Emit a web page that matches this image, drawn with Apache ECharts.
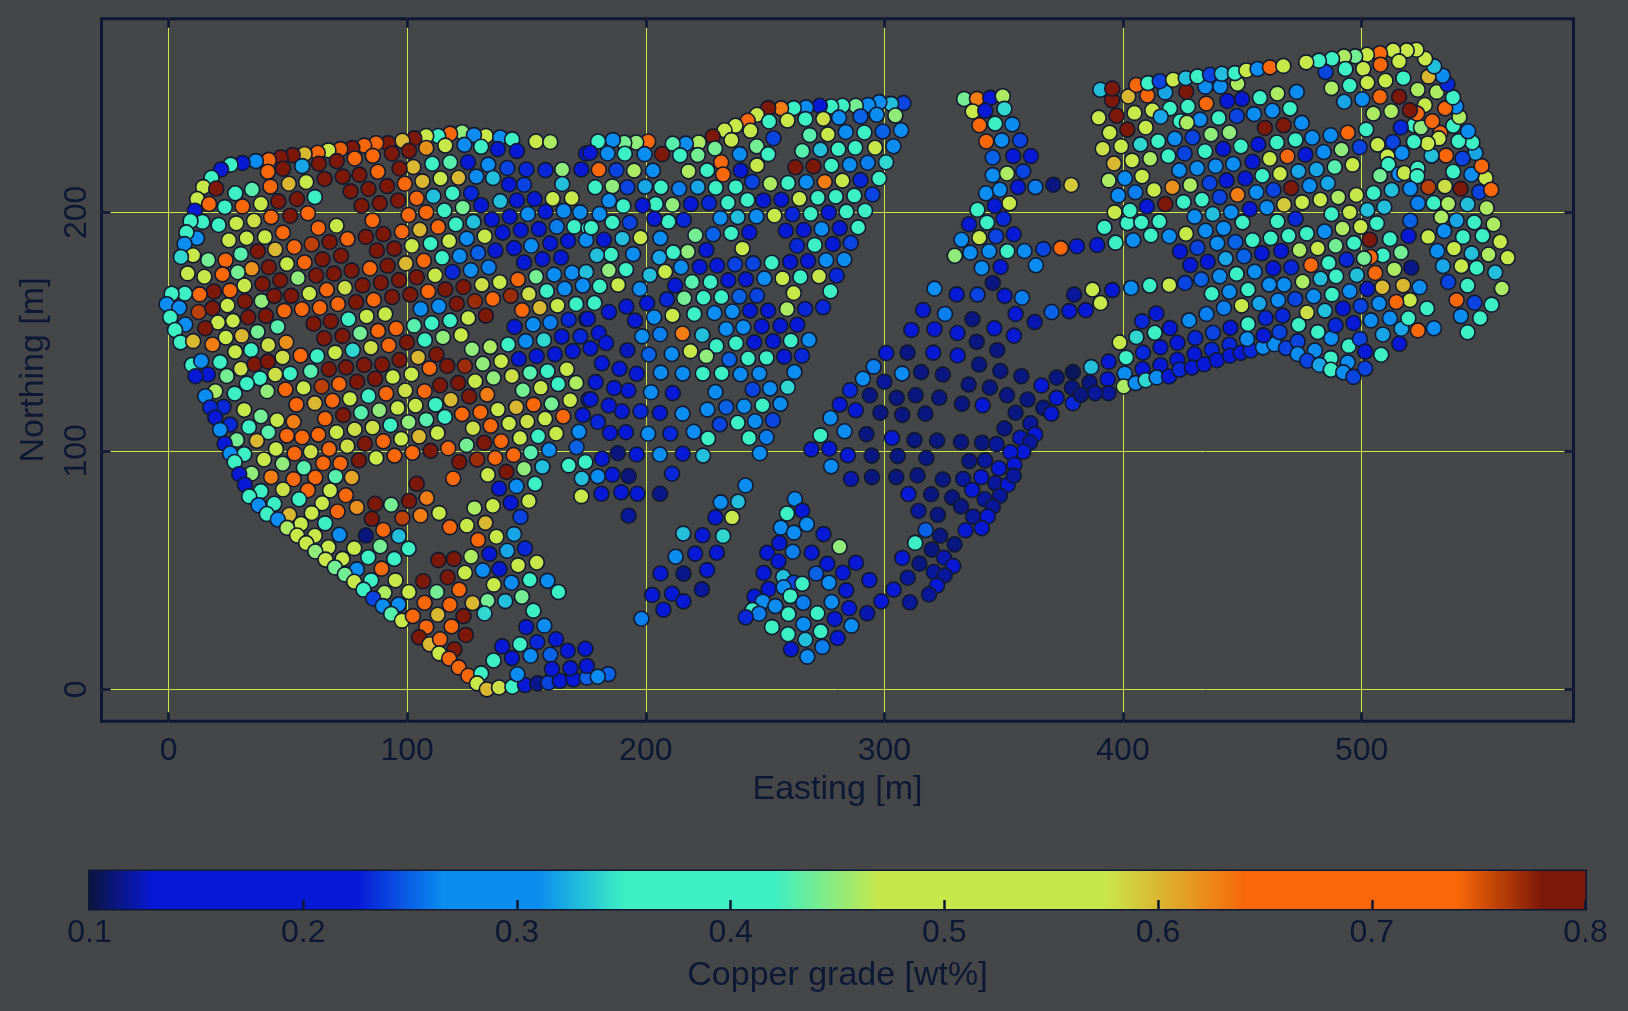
<!DOCTYPE html>
<html><head><meta charset="utf-8">
<style>html,body{margin:0;padding:0;background:#444648}#c{width:1628px;height:1011px}</style>
<script src="https://cdn.jsdelivr.net/npm/echarts@6/dist/echarts.min.js"></script>
</head><body><div id="c"></div>
<script>
// [easting, northing, copper grade]
const westFanNorth=[[133,232,.52],[123,233.6,.45],[118,233,.68],[113,232,.39],[108,232,.52],[103,231,.79],[98,230,.6],[92,229,.79],[87,229,.68],[82,228,.68],[77,227,.79],[72,226.5,.745],[67,226,.52],[62.5,225,.68],[57,224.5,.6],[52,224,.79],[47,223,.79],[42,222,.68],[36.6,221.5,.29],[31,220.7,.18],[26,220,.39],[22,218,.18],[18,214.5,.39],[14.5,210.6,.52],[20,210,.79],[12,205.6,.52],[17,203.5,.66],[11,200.7,.22],[128,232.4,.29],[139,231.4,.29],[144,230.6,.39],[154,229.7,.52],[160,229.5,.46],
[124,228.3,.29],[116,228,.52],[108,227,.62],[131,227.5,.39],[138,226.5,.18],[146,225.7,.18],[100.8,225.8,.79],[93.6,224.7,.79],[85.6,223.7,.68],[78,222.6,.68],[70.5,221.5,.79],[63,220.4,.79],[56,219.4,.32],[48,218.3,.79],[41.6,217,.68],[175,224.7,.18],
[110.5,220.4,.39],[118,221,.43],[125.5,221,.18],[134,220,.31],[142,218.6,.24],[150,218,.23],[158,217.7,.23],[165,218,.45],[173,218,.18],[102.6,219,.6],[96.8,218.4,.79],[87.7,217,.68],[80,215.8,.79],[73,215,.79],[65.4,214,.79],[57.7,212.7,.52],[50.4,212,.6],[42.7,210.8,.68],[35,209.6,.43],[28,208,.39],
[114,214.2,.52],[121.5,214.5,.6],[129,215,.29],[136,214.4,.33],[142.7,211.7,.18],[149,211.6,.24],[165,211.9,.33],[106.4,213,.6],[99,212,.72],[91.6,211,.79],[83.8,209.8,.79],[76.3,208.8,.79],[61.3,206.4,.39],[53.8,205.6,.79],[46,204.6,.79],[38.7,203.6,.52],[31,202.5,.68],[23.6,202.2,.39],[111,206.8,.33],[119,208,.39],[126.8,208,.23],[131,203,.18],[139,204.7,.33],[146,205,.18],[153.4,205.6,.18],[161,205.7,.52],[169,206,.52],
[104,205.9,.71],[96.2,205,.79],[88.5,203.8,.79],[80.9,202.8,.79],[123.3,202,.44],[115.6,200.8,.39],[108,200,.68],[100.6,198.9,.68],[85.5,196.6,.68],[58.4,199.6,.68],[51,198.6,.79],[43,198,.72],[35.8,196.5,.58],[28.4,195.4,.52],[21,194.7,.39],[14.2,196,.39],[9.2,196.4,.39],[135.5,197,.18],[143,198.2,.18],[150.6,199.3,.29],[158,200.3,.18],[165.6,200.6,.29],[172.5,200,.31],
[113,193.9,.68],[105.3,192.7,.6],[97.8,191.9,.68],[90,190.9,.79],[82.7,189.7,.79],[75,188.8,.68],[70.4,194.4,.52],[62.8,193.4,.68],[120.4,195,.39],[127.8,196,.33],[140,191.5,.18],[147.6,192.5,.18],[155.2,193,.18],[162.7,194,.26],[170,194,.35],[176,193.3,.39],[132.5,190,.52],[125,189,.29],[117.6,188,.52],[109.8,186.9,.39],[102,186,.52],[94.6,184.8,.79],[87.3,184,.79],[67.5,187.6,.79],[60,186.6,.76],[52.7,185.5,.68],[47.9,191.5,.72],[40.4,189.7,.52],[32.7,189.2,.52],[25.3,188.3,.52],[11.9,189.2,.29],[7.5,191.6,.39],[6.7,186.7,.29],[10.3,182,.52],[5.2,181.3,.34],[16.6,180,.44],[30.3,182.5,.43],[37.4,183.7,.79],[44.7,184.4,.6],
[137,184,.18],[144.8,185,.22],[152,186,.29],[160,187,.22],[167.5,188,.18],[175,188.4,.29],[129.7,183,.25],[122,181.7,.29],[114.7,181,.39],[107,179.7,.68],[99.4,178.6,.6],[91.8,177.6,.79],[84.4,176.5,.68],[76.7,175.6,.79],[72.3,181.8,.79],[64.5,180.3,.79],[57,179,.68],[49.6,178.4,.52],[42,177,.79],[34.9,176.4,.62],[23.9,179.9,.68],[22.6,174,.68],[29,174.9,.44],[15,173,.52],[8,174.4,.52],
[149,179,.18],[156.7,180.4,.22],[164.5,181,.22],[126.7,175.7,.31],[134.2,177,.26],[119,175,.23],[111.7,173.6,.52],[104,172.8,.79],[96.6,171.6,.79],[89,170.5,.79],[81.3,169.4,.79],[69.3,174.3,.79],[61.9,173.5,.79],[54.2,172.5,.45],[46.8,171.5,.79],[39.4,170,.79],[31.8,169.3,.52],[25.8,167.2,.72],[19,166.8,.79],[13,165.6,.68],[6.8,166,.39],[1.3,165.9,.39],[-.8,161.5,.29],[4.5,160,.29],[12.6,158.2,.76],[18.4,159.8,.79],[24.7,161,.52],[32,162.7,.79],[39,162.8,.45],[44.3,165,.79],[51.4,165,.79],[59,166,.52],[66.3,167.5,.68],[73.9,168.4,.58],
[116,167.7,.79],[108.8,166.8,.68],[101.3,165.5,.79],[93.7,164.5,.79],[86,163.3,.68],[78.6,162.4,.79],[71,161.6,.72],[63.4,160,.68],[55.9,159.4,.68],[48.5,158.7,.68],[40.8,156.6,.79],[33.4,156,.79],[27,154.5,.52],[20.7,153.8,.52],[15.4,151.4,.79],[7,153,.27],[.7,156,.39],[2.7,150.7,.37],[5,145.5,.39],[10.3,146,.6],[18.4,144.6,.63],[24,147.5,.52],[30.7,148.3,.6],[37.3,149.9,.44],[45.7,152,.43],[60.8,153.3,.79],[68,154.3,.79],[75.4,155.2,.39],[83,156.4,.52],[90.8,157.4,.52],
[123.6,168.7,.79],[131.3,169.7,.58],[138.8,170.7,.52],[146.4,171.8,.68],[154,173,.44],[161.6,173.9,.29],[169.1,174.7,.29],[175,175,.33],[173.6,169.3,.29],[166,168,.27],[158.5,167,.38],[151,165.8,.58],[143.4,165,.77],[135.9,163.7,.68],[128.4,162.7,.77],[120.8,161.7,.79],[113.3,160.6,.29],[105.7,159.5,.31],[163,160.9,.52],[170.8,161.6,.39],[155.6,160,.6],[148.2,159,.68],[133,156.7,.79],[125.6,155.7,.52],[118,154.6,.39],[110.3,153.5,.39],[102.9,152.5,.43],[95.4,151.3,.68],[87.8,150.3,.68],[80.3,149.3,.44],[72.9,148.2,.79],[65.2,147.2,.79]];

const westFanMiddle=[[145,152,.18],[152.8,153,.29],[160,153.8,.26],[167.7,155,.23],[175,155.3,.18],[172.6,148,.23],[164.8,147.9,.18],[157.3,146.5,.34],[149.7,146,.3],[142.3,144.6,.39],[122.6,148.6,.52],[115,147.6,.45],[107.4,146.5,.39],[99.9,145.5,.79],[92.3,144.3,.68],[84.8,143.3,.58],[77.2,142.2,.34],[69.8,141.2,.52],[62.3,139.8,.39],[55.3,140,.68],[47.8,139.2,.58],[41.8,144.4,.58],[49.3,145.5,.62],[34.6,142.3,.39],[27.9,141.5,.52],[127.2,142.6,.45],[134.8,143.6,.46],[169.4,141.8,.18],[161.9,140.5,.18],[154.3,139.7,.18],[146.8,138.5,.18],[139.4,137.6,.52],[131.7,136.5,.45],[124.2,135.6,.77],[116.8,135.6,.79],[112.3,140.4,.79],[104.6,139.2,.6],[96.8,138.1,.79],[109.4,134.6,.72],
[9.8,136,.39],[13.7,137.7,.29],[21.6,137.2,.39],[30.3,134.4,.58],[36,136.3,.79],[41.6,137.4,.79],[67.2,134.2,.79],[74.4,135,.79],[82,136,.79],[89.5,136.2,.79],[101.8,132.1,.52],[94,131,.52],[86.6,130.2,.79],[79,129,.79],[71.5,128,.68],[64.2,127,.76],[56.6,126.4,.52],[59.6,133.4,.43],[51,132.4,.39],[44.7,132,.58],[38.3,130.4,.39],[32.8,128.2,.39],[24.4,131.4,.44],[16.5,132,.18],[11.3,131.3,.18],[19.6,125,.46],[15.4,122.9,.27],[27.7,124,.39],[41.3,125,.45],[49,125.7,.68],
[128.5,129.2,.52],[136.2,130.6,.45],[143.9,131.4,.58],[151.5,132.7,.43],[158.8,133.4,.39],[166.9,134.2,.52],[121.4,128.5,.79],[113.8,127.5,.79],[107.3,125,.68],[99.2,125.3,.58],[91.2,124,.68],[83.8,123,.36],[76,121.8,.52],[68.7,121,.73],[61.3,120,.6],[53.6,119.4,.64],[133.5,123.6,.63],[126,122.8,.79],[118.3,121.4,.6],[111.9,119.4,.39],[103.5,119,.52],[96,118,.52],[88.3,117,.45],[80.7,116,.43],[73.2,115,.79],[65.6,113.5,.68],[52.4,112.2,.63],[45.5,112.8,.52],[38.7,114.5,.44],[31.7,117.2,.52],[23,118.4,.23],[17.5,118.2,.23],[19.6,114,.18],[25.8,111,.23],[21.6,108.8,.29],[33.7,110,.39],[41.8,107.8,.43],[49.6,106.4,.72],[56,105.7,.74],[62.8,106.8,.68],[70.4,107.8,.52],[78,109,.58],[85.5,109.8,.58],[93,110.8,.39],[100.6,112,.45],[108,113,.43],[115.8,114.2,.39],[123,115.4,.68],[130.7,116.2,.72],[138,117.3,.52],[145.7,118.3,.6],[153,119.4,.68],[160.5,119.7,.44],[168.3,121.2,.52],[148.5,125.4,.44],[156,126.5,.52],[163.3,128,.39],[170.8,128.5,.46],[176,121.5,.18],[173.6,115,.18],[165.4,114.4,.68],[157.8,113.5,.52],[150.3,112.3,.58],[142.7,111.5,.52],[135,110.5,.74],[127.6,109.5,.58],[112.7,107.5,.52],[105,106,.6],[97.5,105,.52],[90,104,.68],[82.3,103,.79],[74.9,102,.58],[67.3,100.8,.68],[59.6,99.6,.58],[52.8,98.9,.68],[45,100.8,.52],[37,104.2,.6],[28.6,104.6,.44],[31.7,98.6,.39],[23.5,103,.18],[25.8,98.9,.29],[27.7,95.3,.39],[40,96.4,.52],[47.8,94.6,.45],[56.7,92.9,.43],[64.8,94.8,.68],[72,94.7,.68],[79.8,96,.79],[87,97,.52],[94.7,98,.68],[102.2,99.2,.68],[109.8,100,.79],[117.2,101.1,.68],[124.9,102.4,.44],[132.3,103.4,.79],[139.4,104,.68],[147.3,105.4,.52],[154.9,106.1,.39],[162.4,107.3,.52],[172,108,.27],[171,101.5,.25],[159.5,100.4,.29],[151.8,99.3,.43],[144.6,98.3,.68],[136.9,97,.68],[129.3,96.4,.77],[121.8,95.3,.79],[149,92.5,.45],[141.6,91.2,.79],[133.8,90,.52],[119.3,88.4,.68],[156.7,93.3,.33],[167.7,93.9,.39],[174.7,95.3,.39],[173.2,88.4,.33],[173,81,.52]];

const westFanSouth=[[153.6,86.2,.39],[145.8,85.2,.29],[138.5,84.2,.18],[143.4,78.2,.18],[151,79,.52],[135.9,77,.52],[128.2,76,.46],[147.5,72.3,.24],[104,86.2,.79],[100.8,79,.79],[108.2,80.2,.63],[113.4,73.9,.52],[105.6,72.9,.63],[98,71.8,.76],[117.9,68,.68],[125,68.7,.52],[132.8,69.8,.6],[76.8,88.8,.61],[70,89.2,.43],[61.5,88.8,.68],[52.4,88.1,.74],[43,89,.63],[34.8,90.5,.45],[29.6,90.2,.18],[32,85.8,.18],[38.7,83.1,.39],[33.8,80.9,.39],[48,83.8,.58],[58.4,83.5,.68],[67.7,83.4,.52],[74.3,81.4,.68],[54.7,79.7,.39],[64.4,78,.47],[78.9,76.3,.62],[86.6,77.8,.79],[93.3,77.4,.44],[85.2,71.5,.79],[70.8,74.6,.68],[60,73.9,.52],[44.3,77.8,.39],[37.7,77.2,.29],[41.2,73.5,.42],[50.6,73.2,.6],[45.8,71.2,.29],[55.5,69.3,.52],[49.7,67.7,.46],[65.6,69.6,.39],[90,66.8,.68],[71.6,64.8,.3],[82.7,64.5,.112],[96.5,64.3,.33],[61.3,64.4,.47],[53.9,64.5,.52],[57.7,61.3,.47],[100.6,59,.42],[88.7,60,.44],[77.8,59.2,.52],[67,59.6,.47],[61.5,57.8,.45],[65.8,54.4,.48],[72.9,54.7,.57],[83.7,55.4,.39],[94.6,54.7,.39],[69.7,51.1,.44],[78.9,50.3,.29],[89.3,50.6,.68],[73.9,48.2,.44],[77.8,45.1,.52],[84.9,45.7,.39],[95.1,45.7,.52],[81.7,41.8,.39],[90.5,40.5,.46],[100.7,40.8,.52],[106.7,45.3,.79],[85.8,38.1,.24],[89.8,34.9,.3],[96.4,35.6,.31],[93.3,31.6,.43],[97.8,28.8,.52],[102.4,30.7,.68],[107.3,36.3,.68],[112.4,40.8,.44],[117.9,35.5,.68],[112.8,31.3,.6],[108,26.1,.68],[118.6,26.4,.73],[123.6,30.7,.79],[124.6,22.8,.79],[105,21.8,.79],[109.4,18.9,.6],[113.8,21,.68],[113.4,15.1,.52],[119.8,16.8,.79],[117.6,12.9,.68],[121.6,9.2,.72],[125.6,5.7,.68],[131,6.7,.39],[129.3,2.5,.52],[133.4,0,.6],[138.5,.8,.58],[144.1,1.1,.39],[149.4,1.8,.18],[154.6,2.5,.115],[159.2,2.8,.24],[164,3.6,.18],[169.7,4.2,.18],[175.3,4.9,.25],[136.2,12.1,.39],[143.9,13.1,.18],[139.8,18,.18],[147.3,18.9,.39],[151.7,14.1,.29],[154.5,19.8,.23],[162.4,21,.18],[160,14.5,.25],[167.3,16.2,.18],[174.7,17,.18],[168.4,8.9,.18],[160.7,8.5,.18],[146.2,6.3,.29],[175.3,9.8,.18],[149.9,26.1,.18],[157.5,26.7,.29],[152.9,33,.39],[163.4,40.8,.39],[158.8,45.5,.29],[151.4,45.9,.39],[143.7,44.7,.31],[136.3,43.9,.52],[148.1,38.8,.44],[141.1,37,.33],[133.7,37.2,.44],[132.4,31.8,.34],[127.4,36.2,.6],[121.8,41.8,.68],[117,47,.79],[124.2,48.9,.52],[131.7,49.9,.29],[138.7,50.4,.18],[146.5,52,.47],[154.3,53.2,.47],[113.1,54.2,.79],[119.6,54.7,.79],[126.8,55.7,.46],[134.5,56.8,.18],[141.9,58.1,.32],[149.4,59.1,.23],[144.8,65.1,.32],[137.4,64,.52],[129.7,62.6,.68]];

const midBlock=[[308,245.8,.24],[302.8,245.5,.33],[297.9,246.2,.29],[293.2,245,.29],[288,244.7,.44],[282.4,244.7,.39],[277.7,244.4,.39],[272.9,244.7,.18],[267.2,244,.28],[262,243.7,.39],[256.7,243.6,.63],[251.3,243.7,.79],[246.6,240.9,.52],[242.7,238.4,.68],[237.6,236.3,.52],[233,234.4,.52],[228.1,231.8,.79],[304.6,240.6,.45],[296.8,240.9,.31],[290,240.2,.25],[281,239.7,.28],[274.4,239.2,.58],[266.9,239.1,.39],[259.4,238.5,.53],[251.7,238.1,.39],[243.9,234.2,.47],[235.9,230.3,.52],[229,226.8,.44],[222.2,229.3,.46],[216.8,228.8,.31],[211.3,228.8,.43],[201,229.7,.68],[196,229.3,.45],[191,229.2,.44],[186.2,230.3,.3],[180,229.7,.39],[307,234.4,.29],[299.3,233.9,.25],[291.6,233.5,.39],[283.8,233.7,.29],[276.3,232.7,.52],[268.7,232.4,.43],[253.5,231.1,.24],[303.8,227.7,.29],[296.1,227.1,.52],[287.8,227.1,.39],[280.7,226.5,.36],[273.2,226.3,.33],[265.6,225.7,.43],[246.5,227.7,.44],[251.3,224.4,.39],[239.4,224.4,.29],[221.8,224,.44],[214.4,223.9,.39],[206.8,224.4,.79],[199.5,224.4,.29],[191.2,224.6,.39],[184,224.7,.28],[176.7,225,.18],
[300.7,221,.34],[293,220.8,.26],[285.5,220,.29],[277.8,219.7,.39],[270.3,219.3,.79],[262.7,218.9,.79],[246.6,219.7,.52],[231.6,221,.68],[232.4,215.9,.68],[239.8,217.5,.22],[225.7,217.6,.35],[217.9,217.2,.46],[203,217.5,.31],[195.1,217.5,.46],[187.7,217.7,.24],[180.3,217.9,.68],[297.8,214.2,.39],[290,213.5,.23],[282.4,213.3,.52],[275,212.8,.63],[267.3,212.7,.29],[259.6,212.3,.39],[252.2,212,.46],[244.6,212.8,.24],[237.7,210.6,.39],[229.3,210.3,.39],[221.8,210.6,.32],[214,209.9,.26],[206.4,210.5,.39],[199.7,210.8,.32],[192.3,210.5,.24],[186,210.9,.45],[178.8,210.5,.39],[295,207.5,.24],[287.4,207,.39],[279.6,206.6,.39],[272.1,206.1,.39],[264.4,205.7,.52],[256.8,205.3,.18],[249.3,205,.18],[242.6,205.2,.36],[234.4,204,.39],[226.5,203.9,.23],[218.9,203.5,.18],[211.2,203.2,.45],[204.2,203.5,.39],[198.7,202.9,.18],[190.6,202.7,.39],[184.6,204.9,.29],
[291.9,200.7,.35],[284.1,200.3,.39],[276.7,199.9,.18],[269.1,199.4,.39],[261.5,199.2,.23],[253.9,198.7,.52],[246.4,198.3,.27],[238.5,198,.33],[231.3,197.6,.27],[215.9,196.8,.23],[209.5,196.1,.39],[203.6,197.3,.18],[193.3,195.7,.24],[186,195.8,.39],[180.6,199.3,.28],[177.2,193.6,.39],[289,193.7,.39],[281.3,193.4,.18],[273.7,193,.29],[266.2,192.6,.18],[258.7,192.3,.18],[243.4,191.6,.18],[235.8,191.2,.38],[228.2,190.8,.25],[220.8,190.4,.44],[206.1,189.2,.29],[197.8,189.4,.47],[190.2,189,.33],[182.5,188.5,.18],[285.9,187.2,.24],[278.4,186.7,.18],[270.8,186.3,.36],[263.4,186,.23],[240.5,184.8,.52],[225.4,184.2,.18],[217.6,183.5,.45],[211.5,183.2,.39],[205.7,181.1,.32],[194.7,182.5,.29],[185.5,182.3,.39],[179.5,182,.33],
[283.2,180.2,.29],[275.6,179.9,.29],[268,179.6,.18],[260.5,179.2,.18],[252.8,178.9,.39],[245,178.6,.24],[237.4,178.2,.24],[229.9,177.7,.18],[222.6,177.1,.18],[214.8,177,.27],[208.1,175.1,.52],[201.7,173.7,.33],[191.7,176,.39],[184.5,175.7,.45],[280,173.5,.23],[272.6,173.2,.52],[264.8,172.9,.35],[257.3,172.3,.52],[249.7,172.3,.29],[242,171.9,.18],[234.6,171.5,.18],[227.1,170.8,.39],[219.4,170.8,.43],[212.3,169.3,.18],[197.5,167.9,.29],[188.4,169.6,.52],[180.7,169,.39],[277.4,166.9,.39],[262,166.2,.52],[246.6,165.1,.24],[239.2,164.7,.25],[231.7,164.5,.39],[224.2,164.2,.36],[216.1,164,.44],[208.9,163.5,.23],[200.6,161.9,.18],[191.9,160.5,.18],[184.6,158.2,.18],[178.5,162,.39],[274.3,160.2,.23],[266.8,159.5,.23],[259.2,159.5,.46],[251.3,158.8,.18],[243.7,158.8,.18],[236.3,158.4,.29],[228.8,157.8,.29],[220.3,157.4,.39],[211.2,156.8,.52],[203.5,156,.29],[195.5,154.6,.18],[175.7,155.4,.18],[263.5,152.9,.18],[256.4,152.5,.18],[248.6,152.2,.18],[240.9,151.8,.29],[233.7,151.1,.29],[223.7,148.6,.33],[215.4,149.2,.63],[206,148.9,.26],[198.5,148,.31],[180.3,149.4,.18],
[268.4,146.5,.29],[260.8,146.2,.36],[253.4,146,.18],[245.5,145.5,.18],[237.8,145.1,.35],[229.6,144,.39],[218.7,141.8,.52],[225.4,139.7,.45],[210.9,140.6,.27],[201.3,140.4,.25],[192.3,142.2,.125],[183.4,145.2,.18],[176.8,143,.18],[265.5,139.9,.23],[258,139.5,.18],[250.6,139,.39],[242.9,138.7,.39],[235,138.3,.25],[262.3,133.1,.28],[247.6,132.4,.29],[239.7,132.1,.27],[231.8,132.5,.35],[223.9,132.4,.39],[215.5,132.4,.29],[206.3,132.8,.29],[196.2,132.3,.22],[189,134.4,.18],[181.6,136.7,.18],[259.5,126.7,.34],[252.1,126.1,.29],[244.8,125.7,.24],[229.2,124.7,.29],[211.3,124.2,.18],[202.2,124.6,.29],[192.7,125.3,.18],[186.7,126.3,.18],[179,128.8,.18],[256.4,119.7,.29],[248.9,119.1,.39],[241.2,118.7,.28],[233.7,118.3,.25],[225.8,117.3,.29],[215.4,115.6,.29],[205.9,115.9,.18],[197.8,116.6,.23],[190,116.6,.18],[184.5,119,.18],[176.9,121.6,.18],
[179.9,112.1,.23],[185,107.5,.18],[191.7,107.8,.18],[201,107.2,.29],[210.3,107.2,.23],[220.1,108,.27],[231,111.1,.24],[238.5,111.8,.39],[245.8,112.4,.29],[253.3,112.8,.24],[226.1,105.2,.39],[243.3,105.4,.35],[250.6,105.7,.26],[224,98,.33],[247.8,99,.27],[215.5,98.8,.18],[205.9,98.5,.29],[196.2,98.5,.18],[188.3,99,.112],[181.7,96.7,.22],[179.9,89.3,.29],[186,90,.18],[192.8,89.4,.112],[211,90.4,.23],[181.4,82,.18],[189.7,82.6,.21],[196.5,82,.18],[206,82,.115],[192.8,72.8,.118]];

const southStrips=[[241.8,85.5,.29],[231.4,78.4,.3],[238.7,78.7,.33],[229.2,72.1,.18],[236.2,72.1,.52],[215.7,65.3,.33],[223.8,64.6,.18],[232.4,64.3,.34],[212.5,55.6,.27],[220.7,56.9,.18],[229.8,57.3,.18],[206.2,48.6,.18],[215.8,48.5,.115],[225.7,50,.18],[202.7,39.6,.18],[211,40.1,.18],[215.8,36.9,.18],[223.5,41.9,.118],[207.4,33.4,.18],[198.2,29.6,.26],[184.3,6.4,.25],[179.9,5.3,.29]];

const diamond=[[262.5,79.8,.28],[265.6,74.9,.22],[259.2,73.7,.4],[267.5,69.2,.27],[256.6,67.8,.29],[262.1,65.7,.29],[274.5,65.1,.18],[256,61.4,.18],[281.2,59.8,.45],[250.9,57.3,.18],[261.6,57.7,.26],[269.5,57.3,.18],[255.6,53.7,.18],[276.1,52.6,.18],[288.1,53.1,.18],[249.4,48.8,.18],[257.6,47.2,.33],[271.4,48.6,.25],[282.6,48.9,.18],[262,44.7,.24],[265.6,44.3,.39],[276.8,44.7,.29],[293.7,45.8,.18],[251.5,42.1,.18],[284,41.5,.18],[245.6,38.9,.22],[257.8,42.8,.3],[260.6,39.1,.36],[249,36.8,.29],[254.3,34.9,.29],[266,36.3,.26],[277.9,36.6,.27],[285.2,34,.18],[244.7,33.3,.38],[247.5,31.7,.26],[241.9,30.2,.23],[259.8,31.6,.38],[271.9,31.9,.35],[279.2,29.5,.18],[292.8,31.9,.122],[266.1,27.3,.29],[252.9,26.1,.35],[286.2,26.7,.29],[273.3,24.3,.42],[259.6,23.1,.39],[266.9,20.8,.33],[280.4,21.5,.18],[274,17.8,.26],[260.9,16.8,.18],[267.7,13.7,.27]];

const wedgeUpper=[[321,168,.31],[330.3,165.6,.18],[339,165.5,.24],[345.4,170.4,.113],[350.4,165,.18],[357.7,164.2,.26],[379.5,165.5,.118],[316.2,159,.18],[325.4,157.4,.26],[336.9,155.2,.113],[346.1,151.4,.18],[355,157.4,.18],[363,154,.122],[370.1,158.2,.25],[377.5,158.6,.18],[311.3,150.7,.18],[321,151,.18],[330.6,149.4,.18],[338.7,145.7,.113],[354.3,148.3,.18],[300.8,141,.18],[309.7,141.2,.113],[320.5,141.2,.18],[330.7,140,.18],[347.3,142.2,.113],[339.7,136.2,.113],[295.5,135.3,.26],[307.4,132.4,.29],[315.4,133,.113],[324.5,132,.113],[348.6,133.5,.113],[357.4,131.3,.113],[291,130.2,.29],[300,129,.118],[335.3,127.8,.113],[344.2,126.5,.113],[351.4,123.3,.113],[365.8,127.4,.18],[372.2,130.7,.113],[379,133,.105],[378.6,126.4,.113],[372.2,122.2,.18],[285.6,125.4,.23],[293.9,123.3,.113],[305.2,122.2,.113],[313.1,123.3,.113],[323,122.3,.113],[281.3,119.4,.18],[288,117,.18],[298.3,116,.113],[307.5,115.1,.113],[317.2,115.6,.113],[332.5,119.7,.113],[341.2,119.1,.18],[360,121.5,.113],[366.6,118,.113],[379,120,.23],[355,116,.113],[370,115.6,.18],[277.4,113.8,.28]];

const wedgeLower=[[283.3,108.2,.29],[292.5,107,.113],[273.2,106.5,.39],[303.2,105.4,.18],[312.6,104.5,.113],[322.1,104.3,.113],[332.1,103.7,.113],[340.9,103.4,.113],[347,102.8,.118],[350.3,109.4,.113],[361.2,111.5,.118],[356.9,105.5,.125],[363.2,106.9,.2],[361,103.5,.118],[358.2,99.6,.2],[352.8,99.4,.18],[269.4,100.6,.18],[276.9,100.9,.18],[284.7,98.1,.18],[294.7,98,.113],[305.6,97.8,.113],[317.6,97,.113],[335.6,95.7,.113],[342.2,96,.118],[348,92.7,.18],[354.5,94.2,.2],[277.7,93.5,.27],[286,88.2,.122],[294.8,89,.113],[305,89,.113],[313.9,89.7,.113],[324.5,88,.113],[333,88.2,.118],[340.6,89,.18],[346.5,86.4,.118],[351.7,85.8,.18],[354.2,89.6,.118],[310.1,81.9,.18],[319.6,81.8,.113],[328.4,80.4,.113],[336.8,83.6,.18],[342,79.7,.118],[348.4,81.2,.118],[332.1,76.7,.113],[345.4,76.6,.118],[314.3,74.8,.118],[322.4,73.2,.113],[337.2,72.4,.118],[343.3,72.5,.18],[340.8,67.6,.18],[334,66.7,.18],[317.3,66.8,.25],[323.4,64.4,.113],[329.4,60.8,.113],[312.9,61.4,.39],[319.8,58.6,.113],[307.5,55.1,.18],[325,55.2,.122],[328.8,51.7,.2],[314.7,52.7,.113],[320.7,49.2,.118],[325.3,47.8,.118],[309.8,46.8,.118],[322,43.5,.18],[303.9,41.8,.18],[318.7,39.8,.118],[298.7,36.9,.13],[310.7,36.5,.118]];

const centreArm=[[333.4,247.5,.44],[338.8,247.6,.63],[344.4,248,.18],[349.6,248.7,.46],[337,242.3,.52],[342.3,242.6,.18],[350.3,243.4,.34],[339.8,236.5,.68],[346.4,237.2,.39],[353.6,236.9,.29],[342.7,229.7,.68],[349.2,230.2,.31],[356.9,230.2,.24],[345.4,223,.25],[354,223.6,.18],[361.4,223.6,.18],[345.4,215.6,.29],[351.4,216.3,.46],[358.2,217.2,.24],[342.6,208,.29],[348.4,209.5,.31],[356,210.6,.18],[363.3,210.6,.26],[370.8,211.6,.113],[378.3,211.5,.59],[346.2,202.8,.18],[352.4,203.8,.52],[339,201.1,.39],[349.9,197.3,.23],[343,195.7,.39],[335.5,195,.18],[354.2,190.8,.18],[346.8,190,.24],[339.8,189.4,.55],[332.3,188.5,.29],[336,183.1,.29],[343.9,183.7,.29],[351.5,183.7,.35],[358.7,183.8,.3],[366.6,184.6,.24],[373.9,185,.68],[380.7,185.8,.18],[329.5,181.8,.45],[340.8,176.7,.27],[348.7,177.1,.18],[363.5,177.8,.29]];

const eastLowerArm=[[387.2,167.6,.52],[395.5,167.4,.18],[390.6,162,.52],[384.4,159,.18],[403.4,168.3,.27],[411.2,169.3,.39],[419.4,169.5,.52],[426,170.4,.24],[432.8,171.9,.25],[389.2,186.3,.18],[396.9,187.3,.39],[404.3,188.3,.31],[411.7,190.4,.39],[419.4,190,.31],[426.4,191,.52],[392.2,193.7,.39],[401.8,195.5,.35],[407.7,195.8,.36],[415.2,196.2,.39],[396.5,200,.52],[402.9,200.8,.39],[410,202.5,.18],[417.7,203.5,.79],[425.4,204.3,.39],[433.1,205.3,.35],[440.5,206.4,.24],[448,207.4,.63],[414,157.6,.18],[408,154.3,.23],[419.7,151.5,.18],[413.3,149.5,.39],[405.6,147.7,.34],[398.6,145.4,.52],[422.8,145.3,.18],[415.7,143.4,.18],[408.4,141.2,.23],[401.3,139.1,.39],[394,137.4,.18],[430.3,147.3,.23],[437.7,149.5,.24],[445,151.6,.18],[437.2,142.4,.23],[444.6,144.5,.23],[429.9,140.6,.18],[422.8,138.2,.2],[415.7,135.9,.18],[408.2,134.3,.18],[400.7,132.4,.27],[393.6,130,.18],[386.7,135.1,.33],[386,128.7,.113],[400.3,127,.46],[405.3,128.4,.27],[409.5,129.6,.34],[414.1,130.8,.27],[419.3,131.2,.2],[423.7,134,.23],[428.9,134.9,.18],[434,136.3,.18],[439.4,138,.18],[444.8,139.9,.18],[449.3,141.1,.18],[453.5,142.1,.23],[458.7,143.4,.27],[463.5,144.7,.29],[468.3,143.1,.24],[473.2,145.9,.24],[473.2,140.6,.29],[480.4,142.1,.29],[487.3,147.2,.31],[494.6,144,.39],[499.3,146.9,.24],[487.1,138.9,.39],[477.2,137.8,.24],[482.3,136,.32],[494.2,137.1,.31],[487.1,134,.39],[492.3,132.9,.29],[496.6,131,.24],[501.5,134.5,.24],[393.9,124.2,.118],[388.3,124.2,.118],[382.3,123.5,.113]];

const eastBlockNorth=[[552,214.4,.52],[546,215.9,.29],[538.4,217,.35],[550.3,219.4,.68],[547.7,224.9,.32],[542.3,222.6,.24],[535.4,223.8,.7],[529.3,223.8,.33],[546.4,229.3,.39],[540.6,229.8,.39],[533,233.3,.68],[532.4,231,.52],[527.7,228.9,.52],[521.9,229.6,.39],[544.6,234,.29],[538.4,236.3,.39],[522,236.5,.39],[524.9,235.6,.45],[529.6,238.2,.68],[541,240,.46],[539.6,244.4,.29],[535,243.6,.68],[526.5,245,.52],[523.3,241.4,.68],[520.2,242.8,.79],[538.3,248.2,.39],[531.5,250.5,.46],[536,253.7,.23],[534,257.3,.27],[523.5,251.4,.46],[528,256.9,.6],[530.4,261.2,.33],[526.6,264.4,.52],[523,268.2,.52],[518.9,267.9,.52],[513.2,267.9,.52],[515.7,263.3,.52],[507.7,266.7,.68],[507.9,261.9,.68],[502.2,266.1,.52],[500.7,260.2,.52],[497.3,265.4,.44],[492.6,265.4,.46],[487.6,264.4,.39],[493.2,260.1,.35],[484.9,258.8,.24],[482.1,263.6,.39],[476.8,262.9,.52],[517.5,256.3,.39],[510,255.2,.52],[502.4,254.4,.57],[495,253.2,.39],[487.4,252.1,.46],[515.7,248.5,.79],[507.7,248.5,.72],[500.3,247.4,.29],[492.7,246.4,.32],[512.4,242.4,.46],[504.9,241.4,.46],[501.9,234.7,.39],[516.4,235.6,.23],[494.2,233.4,.68],[487,232.3,.29],[479.3,231.3,.31],[474.9,237.5,.29],[467.3,236.5,.79],[459.5,235.4,.79],[470,243.5,.37],[462.6,242.6,.31],[454.9,241.2,.28],[447.7,240.4,.24],[440.1,239.6,.39],[432.3,238.9,.31],[424,238.2,.39],[426.8,237.6,.46],[472.8,250.5,.29],[464.7,249.8,.46],[457.4,248.1,.39],[449.9,247.5,.18],[443.7,246.7,.18],[434.9,245.6,.68],[427.2,244.4,.39],[419.7,243.6,.39],[412.3,242.8,.52],[415.8,240.1,.32],[404.8,241.7,.52],[397.3,240.5,.79],[389.8,239.7,.52],[395.4,247,.79],[402.2,248.6,.6],[410.2,249,.68],[417.7,250.3,.32],[426.5,250.6,.79],[434.5,252.7,.29],[440.8,252.8,.31],[448,253.9,.46],[390.5,251.4,.33],[395.5,251.9,.79],[405.6,253.4,.68],[410.5,254.2,.39],[415.4,255,.24],[421,255.6,.52],[426.3,256.3,.33],[431.2,257,.36],[436.5,257.7,.24],[441.4,258.1,.33],[446.9,258.4,.39],[451.7,259.5,.52],[456.4,260.1,.31],[461.6,260.8,.68],[467.2,261.4,.52],[401.8,234.7,.79],[409.5,235.6,.52],[394.4,233.4,.52],[414.7,229.8,.39],[421.7,230.9,.31],[429.2,231.4,.24],[436.9,232.7,.45],[444.6,233.5,.45],[407.3,228.5,.34],[399.2,227.7,.52],[391.5,226.7,.58],[425.8,224.7,.24],[419,223.6,.39],[411.4,222.5,.46],[403.8,221.7,.52],[396.2,220.5,.6],[434.4,225.6,.39],[442,226.6,.18],[449.4,227.7,.39],[456.7,228.5,.18],[464.5,229.3,.39],[472.3,230.4,.39],[461.5,222.5,.52],[468.9,223.5,.72],[476.5,224.2,.18],[484.1,225.3,.29],[491.6,226.3,.45],[499.2,227.3,.24],[506.7,228.4,.52],[513.1,229.5,.24],[516.9,224.9,.29],[454.3,221.2,.22],[446.2,220.3,.29],[438.8,219.4,.29],[431.1,218.5,.29],[423.6,217.6,.29],[496.2,220,.52],[488.7,219,.43],[481.1,218,.32],[473.5,217.2,.32],[465.8,216.2,.52],[458.4,215.4,.39],[451.3,214.2,.18],[443.4,213.4,.18],[436.3,212.3,.24],[428.2,211.5,.46],[420.7,210.5,.62],[413,209.4,.57],[408,215.1,.52],[400.8,214.3,.28],[394,213.4,.46],[405.2,208.4,.26],[398,207.1,.29],[485.8,212.2,.32],[478.2,211.2,.29],[470.5,210.2,.79],[463.1,209.4,.24],[455.9,208.4,.29],[510.8,223.5,.52],[511.2,220.1,.39],[507.7,215.4,.44],[515.7,216,.29],[517.9,216.5,.52],[523.5,218.4,.39],[523.3,215.1,.39]];

const eastBlockSouth=[[430,198.2,.29],[437.6,199.3,.33],[445.3,200.1,.29],[450.1,195.8,.39],[442.2,193.3,.29],[434.6,192.3,.29],[464.7,196.2,.39],[472.3,197.3,.23],[487.4,199.3,.39],[495,200,.52],[502.4,201,.33],[509.5,202.2,.33],[453.2,201.4,.18],[460.3,202,.29],[467.5,203.2,.59],[475.1,204.2,.47],[482.7,205.3,.47],[490.2,206.3,.46],[497.8,207.3,.52],[505,208.1,.39],[512.6,209.4,.33],[520.4,209.9,.29],[528,210.5,.76],[534.9,210.9,.58],[541.5,209.9,.79],[549.3,208.5,.24],[554.3,209.5,.68],[523.6,203.8,.26],[530.2,203.9,.39],[536.3,203.6,.46],[544.4,203.4,.33],[552.4,201.8,.46],[533.4,198,.46],[539.8,196.6,.32],[547.2,195.8,.39],[555.3,195,.46],[534.6,192.2,.29],[542.5,189.7,.39],[550.7,190.2,.39],[558.1,187.7,.52],[527.9,189.7,.52],[520.4,196.5,.25],[519.7,190.1,.18],[531.7,183.8,.29],[538.7,184.8,.52],[546.1,182.8,.33],[553.2,182.3,.46],[561.2,181,.52],[534.1,177.5,.32],[541.8,177.5,.52],[548.2,176.7,.39],[556,174.8,.33],[536.3,170.8,.24],[544.4,169.3,.39],[558.8,168.1,.46],[539.8,163.2,.68],[547.3,162.1,.24],[554.5,161.3,.39],[541.6,156.5,.29],[549.7,155.7,.39],[544.4,149.7,.39],[527.4,159.7,.39],[530.3,151.4,.29],[523.6,150.5,.68],[515.8,144.9,.18],[508.2,140.3,.39],[501.5,141.6,.18],[508.9,148.8,.32],[516.7,151.2,.32],[511.9,155.6,.29],[519.6,155.6,.35],[520.3,163.2,.52],[514.5,162.4,.64],[524.3,168.6,.29],[517.4,169.4,.6],[508.7,168.6,.6],[502.4,167.9,.18],[495,166.9,.29],[487.6,165.6,.39],[479.9,164.8,.27],[472.2,163.7,.24],[465,163.1,.29],[457.1,161.8,.32],[449.7,160.9,.47],[442.3,159.9,.26],[435,157.4,.26],[427.7,154.7,.29],[452.4,153.2,.39],[459.8,155.7,.23],[466.9,156.7,.23],[473.6,152.9,.35],[477.1,158,.58],[484.6,158.8,.33],[492.2,159.7,.18],[499.6,160.7,.24],[507.3,161.8,.29],[503.9,154.7,.29],[496.6,153.6,.18],[489.1,152.6,.23],[481.6,149.8,.39],[465.6,149.8,.24],[458.9,148.4,.18],[452,146.9,.29],
[423.9,183.6,.18],[431.2,185.2,.24],[439.5,187,.31],[447.1,187.6,.25],[454.3,188.3,.39],[461.9,189.2,.37],[469.4,190.2,.39],[477,191.1,.39],[484.5,192,.29],[492,193.2,.46],[499.6,194,.52],[506.4,195.4,.36],[428.2,177.9,.18],[435.5,179.3,.18],[443,180.6,.32],[450.7,181.6,.25],[458.2,182.8,.18],[466.3,183.8,.18],[474,184.2,.46],[481.6,184.9,.52],[489.1,186,.44],[496.8,187.1,.39],[503.4,188.5,.79],[511.9,188.8,.39],[516.5,183.2,.44],[508.9,182,.39],[503.7,181.3,.68],[501,180.7,.44],[493.7,180.2,.23],[486.2,178.8,.39],[478.8,177.9,.68],[470.5,176.9,.23],[463,176.5,.18],[455.2,175.1,.29],[447.6,174.2,.39],[440.5,173.2,.27],[505.7,174.6,.68],[513.7,176.1,.46],[520.8,176.8,.115],[498,173.7,.33],[489.3,173.2,.39],[482.8,172.2,.33],[475.3,170.9,.46],[467.5,169.7,.29],[461.3,169.7,.29],[452.4,167.6,.39],[444.6,166.7,.31],[437.2,165.9,.36]];

const mapColorStops=[[.1,'#0c1440'],[.13,'#0819d6'],[.225,'#0819d6'],[.265,'#0a8cf0'],[.31,'#0a8cf0'],[.35,'#3cf0c4'],[.42,'#3cf0c4'],[.47,'#c8e84a'],[.575,'#c8e84a'],[.64,'#f86808'],[.74,'#f86808'],[.78,'#7c1808'],[.8,'#7c1808']];
const eastingTicks=[0,100,200,300,400,500];
const northingTicks=[0,100,200];
const gradeTicks=[.1,.2,.3,.4,.5,.6,.7,.8];

const INK='#0d1835',GRID='#c8e84a',FONT='"Liberation Sans",Arial,sans-serif';
const samples=[[.1,.8]];
const allPoints=[].concat(westFanNorth,westFanMiddle,westFanSouth,midBlock,southStrips,diamond,wedgeUpper,wedgeLower,centreArm,eastLowerArm,eastBlockNorth,eastBlockSouth);

function hex(c){return [1,3,5].map(i=>parseInt(c.substr(i,2),16));}
function colorAt(v){
  for(let i=1;i<mapColorStops.length;i++){
    const a=mapColorStops[i-1],b=mapColorStops[i];
    if(v<=b[0]+1e-9){const t=(v-a[0])/(b[0]-a[0]),p=hex(a[1]),q=hex(b[1]);
      return 'rgb('+p.map((x,k)=>Math.round(x+(q[k]-x)*t)).join(',')+')';}
  }
  return mapColorStops[mapColorStops.length-1][1];
}
const colorList=[];for(let i=0;i<=140;i++)colorList.push(colorAt(.1+i*.005));

const chart=echarts.init(document.getElementById('c'),null,{renderer:'canvas'});
const labelStyle={color:INK,fontFamily:FONT,fontSize:32};
const nameStyle={color:INK,fontFamily:FONT,fontSize:34};
const axTick={show:true,inside:true,length:9,lineStyle:{color:INK,width:2.5}};
const noLine={show:false,onZero:false};
const xCommon={type:'value',min:-28.1,max:588.8,axisLine:noLine};
const yCommon={type:'value',min:-13.4,max:281.2,axisLine:noLine};
chart.setOption({
  animation:false,backgroundColor:'#444648',
  grid:[
    {left:101.5,top:18.7,width:1472,height:702.6,show:true,borderColor:INK,borderWidth:3,backgroundColor:'transparent'},
    {left:89.5,top:871,width:1496,height:38,show:true,borderColor:INK,borderWidth:3,backgroundColor:'transparent'}
  ],
  xAxis:[
    Object.assign({},xCommon,{gridIndex:0,position:'bottom',name:'Easting [m]',nameLocation:'middle',nameGap:50,nameTextStyle:nameStyle,
      axisLabel:Object.assign({},labelStyle,{customValues:eastingTicks,margin:14}),
      axisTick:Object.assign({},axTick,{customValues:eastingTicks}),
      splitLine:{show:true,lineStyle:{color:GRID,width:1}}}),
    Object.assign({},xCommon,{gridIndex:0,position:'top',axisLabel:{show:false},axisTick:Object.assign({},axTick,{customValues:eastingTicks}),splitLine:{show:false}}),
    {type:'value',gridIndex:1,min:.1,max:.8,interval:.1,name:'Copper grade [wt%]',nameLocation:'middle',nameGap:50,nameTextStyle:nameStyle,
      axisLine:noLine,z:10,
      axisLabel:Object.assign({},labelStyle,{margin:8,customValues:gradeTicks,formatter:v=>Number(v).toFixed(1)}),
      axisTick:Object.assign({},axTick,{customValues:gradeTicks}),splitLine:{show:false}}
  ],
  yAxis:[
    Object.assign({},yCommon,{gridIndex:0,position:'left',name:'Northing [m]',nameLocation:'middle',nameGap:51,nameRotate:90,nameTextStyle:nameStyle,
      axisLabel:Object.assign({},labelStyle,{rotate:90,margin:8,customValues:northingTicks}),
      axisTick:Object.assign({},axTick,{customValues:northingTicks}),
      splitLine:{show:true,lineStyle:{color:GRID,width:1}}}),
    Object.assign({},yCommon,{gridIndex:0,position:'right',axisLabel:{show:false},axisTick:Object.assign({},axTick,{customValues:northingTicks}),splitLine:{show:false}}),
    {type:'value',gridIndex:1,min:0,max:1,show:false,axisLine:noLine}
  ],
  visualMap:{show:false,type:'continuous',seriesIndex:0,dimension:2,min:.1,max:.8,inRange:{color:colorList}},
  series:[
    {type:'scatter',xAxisIndex:0,yAxisIndex:0,data:allPoints,symbol:'circle',symbolSize:15,progressive:0,large:false,
      itemStyle:{borderColor:'#121a30',borderWidth:1.6,opacity:1},z:3,silent:true},
    {type:'custom',xAxisIndex:2,yAxisIndex:2,data:samples,silent:true,z:2,encode:{x:[0,1]},
      renderItem(params,api){
        const a=api.coord([api.value(0),0]),b=api.coord([api.value(1),1]);
        const span=.7;
        return {type:'rect',shape:{x:a[0],y:b[1],width:b[0]-a[0],height:a[1]-b[1]},
          style:{fill:new echarts.graphic.LinearGradient(0,0,1,0,mapColorStops.map(s=>({offset:Math.max(0,Math.min(1,(s[0]-.1)/span)),color:s[1]})))}};
      }}
  ]
});
</script></body></html>
